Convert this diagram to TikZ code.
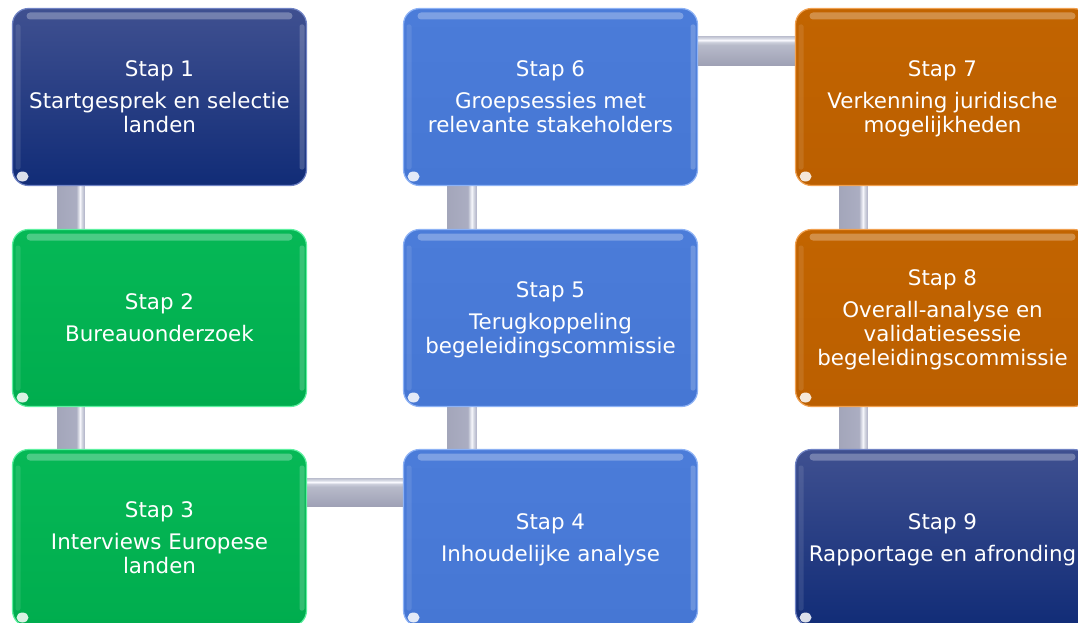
\documentclass[tikz,border=0pt]{standalone}
\usepackage{fontspec}
\setmainfont{DejaVu Sans}
\usetikzlibrary{backgrounds,calc}
\definecolor{navyT}{HTML}{3F5090}
\definecolor{navyB}{HTML}{112C77}
\definecolor{navyR}{HTML}{7083C4}
\definecolor{greenT}{HTML}{06B856}
\definecolor{greenB}{HTML}{00AD4E}
\definecolor{greenR}{HTML}{5DF0A0}
\definecolor{blueT}{HTML}{4B7CD9}
\definecolor{blueB}{HTML}{4677D4}
\definecolor{blueR}{HTML}{8DB2F5}
\definecolor{orangeT}{HTML}{C26400}
\definecolor{orangeB}{HTML}{BB5F00}
\definecolor{orangeR}{HTML}{F0A050}
\pgfdeclarehorizontalshading{barvshade}{100bp}{rgb(0bp)=(0.64,0.65,0.73); rgb(25bp)=(0.64,0.65,0.73); rgb(60bp)=(0.67,0.68,0.76); rgb(63bp)=(0.80,0.81,0.86); rgb(67bp)=(0.97,0.97,0.99); rgb(70bp)=(0.84,0.85,0.89); rgb(75bp)=(0.70,0.71,0.79); rgb(100bp)=(0.70,0.71,0.79)}
\pgfdeclareverticalshading{barhshade}{100bp}{rgb(0bp)=(0.62,0.63,0.71); rgb(25bp)=(0.62,0.63,0.71); rgb(60bp)=(0.72,0.73,0.79); rgb(65bp)=(0.80,0.81,0.86); rgb(68.5bp)=(0.98,0.98,1); rgb(71.5bp)=(0.85,0.86,0.90); rgb(75bp)=(0.75,0.76,0.82); rgb(100bp)=(0.75,0.76,0.82)}
\tikzset{
  glossy/.style={path picture={
    \fill[white,opacity=0.28,rounded corners=3.5pt]
      ([xshift=14pt,yshift=-4pt]path picture bounding box.north west) rectangle
      ([xshift=-14pt,yshift=-11pt]path picture bounding box.north east);
    \fill[white,opacity=0.2,rounded corners=2pt]
      ([xshift=-7pt,yshift=-16pt]path picture bounding box.north east) rectangle
      ([xshift=-2pt,yshift=16pt]path picture bounding box.south east);
    \fill[white,opacity=0.1,rounded corners=2pt]
      ([xshift=3pt,yshift=-16pt]path picture bounding box.north west) rectangle
      ([xshift=8pt,yshift=16pt]path picture bounding box.south west);
    \fill[white,opacity=0.85]
      ([xshift=10pt,yshift=9pt]path picture bounding box.south west) ellipse [x radius=6pt, y radius=5pt];
  }},
  stepbox/.style n args={3}{top color=#1, bottom color=#2, draw=#3, line width=1.2pt,
    rounded corners=16pt, minimum width=294pt, minimum height=177pt, inner sep=0pt,
    text depth=-1.5pt,
    text=white, align=center, font=\fontsize{21.4}{24}\selectfont, glossy},
  barv/.style={shading=barvshade},
  barh/.style={shading=barhshade}
}
\begin{document}
\begin{tikzpicture}[x=1pt,y=-1pt]
\useasboundingbox (0,0) rectangle (1078,623);
\clip (0,0) rectangle (1078,623);
\node[stepbox={navyT}{navyB}{navyR}] (s1) at (159.5,97) {Stap 1\\[8pt]Startgesprek en selectie\\landen};
\node[stepbox={greenT}{greenB}{greenR}] (s2) at (159.5,318) {Stap 2\\[8pt]Bureauonderzoek};
\node[stepbox={greenT}{greenB}{greenR}] (s3) at (159.5,538) {Stap 3\\[8pt]Interviews Europese\\landen};
\node[stepbox={blueT}{blueB}{blueR}] (s4) at (550.5,538) {Stap 4\\[8pt]Inhoudelijke analyse};
\node[stepbox={blueT}{blueB}{blueR}] (s5) at (550.5,318) {Stap 5\\[8pt]Terugkoppeling\\begeleidingscommissie};
\node[stepbox={blueT}{blueB}{blueR}] (s6) at (550.5,97) {Stap 6\\[8pt]Groepsessies met\\relevante stakeholders};
\node[stepbox={orangeT}{orangeB}{orangeR}] (s7) at (942.5,97) {Stap 7\\[8pt]Verkenning juridische\\mogelijkheden};
\node[stepbox={orangeT}{orangeB}{orangeR}] (s8) at (942.5,318) {Stap 8\\[8pt]Overall-analyse en\\validatiesessie\\begeleidingscommissie};
\node[stepbox={navyT}{navyB}{navyR}] (s9) at (942.5,538) {Stap 9\\[8pt]Rapportage en afronding};
\begin{scope}[on background layer]
  \fill[white] (0,0) rectangle (1078,623);
  \fill[barv] ($(s1.south west)+(45.5,-10)$) rectangle ($(s2.north west)+(72.5,10)$);
  \fill[barv] ($(s2.south west)+(45.5,-10)$) rectangle ($(s3.north west)+(72.5,10)$);
  \fill[barh] ($(s3.north east)+(-10,29.5)$) rectangle ($(s4.north west)+(10,57.5)$);
  \fill[barv] ($(s4.north west)+(44.5,10)$) rectangle ($(s5.south west)+(73.5,-10)$);
  \fill[barv] ($(s5.north west)+(44.5,10)$) rectangle ($(s6.south west)+(73.5,-10)$);
  \fill[barh] ($(s6.north east)+(-10,28.5)$) rectangle ($(s7.north west)+(10,57.5)$);
  \fill[barv] ($(s7.south west)+(44.5,-10)$) rectangle ($(s8.north west)+(72.5,10)$);
  \fill[barv] ($(s8.south west)+(44.5,-10)$) rectangle ($(s9.north west)+(72.5,10)$);
\end{scope}
\end{tikzpicture}
\end{document}
